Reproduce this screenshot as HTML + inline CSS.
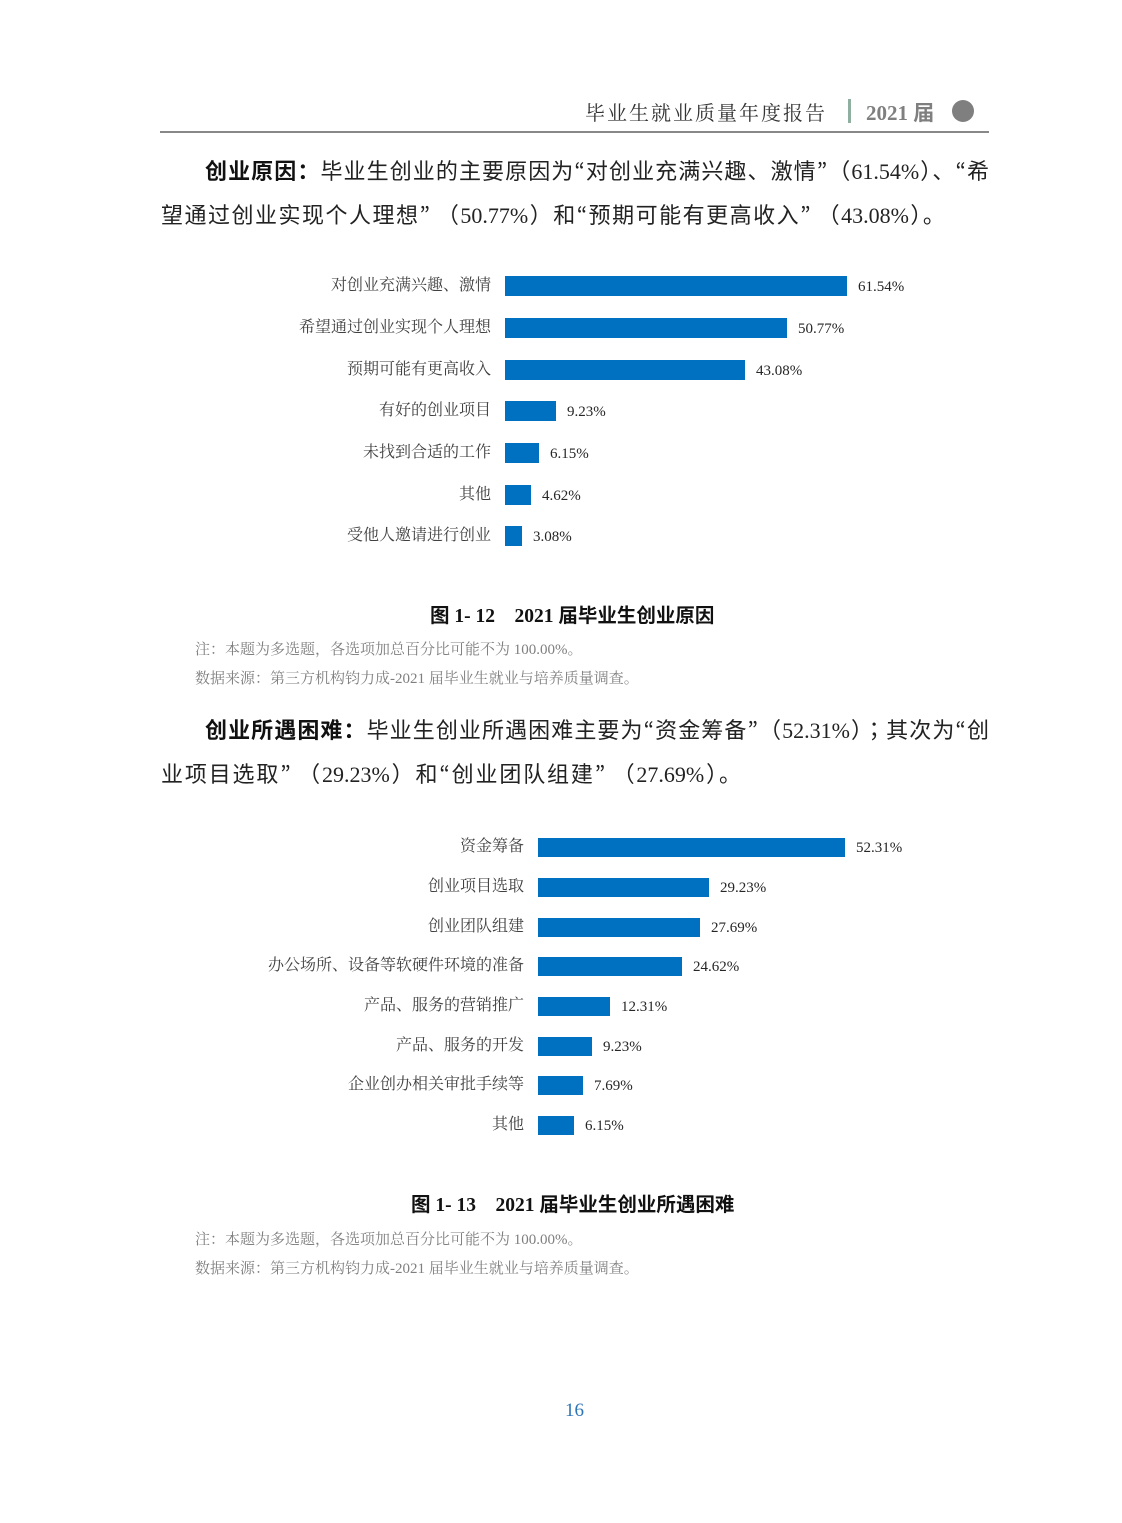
<!DOCTYPE html>
<html><head><meta charset="utf-8"><style>
body{margin:0;width:1122px;height:1523px;background:#fff;position:relative;overflow:hidden;font-family:"Liberation Serif","Noto Sans CJK SC",sans-serif;}
.a{position:absolute;white-space:nowrap;}
.body{font-size:22px;color:#222;line-height:30px;}
.j{text-align:justify;text-align-last:justify;}
.f{font-family:"Noto Sans CJK JP",sans-serif;}
.b{font-family:"Liberation Sans","Noto Sans CJK SC",sans-serif;font-weight:bold;color:#111;}
.lbl{font-size:16px;color:#404040;text-align:right;line-height:20px;font-family:"Liberation Serif","Noto Serif CJK SC",serif;}
.val{font-size:15px;color:#262626;line-height:20px;}
.bar{position:absolute;background:#0070c0;}
.cap{font-size:19.5px;font-weight:bold;color:#111;}
.note{font-size:15px;color:#7f7f7f;font-family:"Liberation Serif","Noto Serif CJK SC",serif;}
</style></head><body>
<div class="a" style="left:585px;top:97px;font-size:20px;color:#333;letter-spacing:2px;font-family:'Noto Serif CJK SC',serif;">毕业生就业质量年度报告</div>
<div class="a" style="left:848px;top:99px;width:3px;height:24px;background:#8fb0a0;"></div>
<div class="a" style="left:866px;top:97px;font-size:21px;color:#7f7f7f;font-weight:bold;">2021 届</div>
<div class="a" style="left:952px;top:100px;width:22px;height:22px;border-radius:50%;background:#7f7f7f;"></div>
<div class="a" style="left:160px;top:131px;width:829px;height:2px;background:#888;"></div>

<div class="a body j" style="left:161px;width:828px;top:155px;"><span style="padding-left:44px" class="b">创业原因：</span>毕业生创业的主要原因为<span class="f">“</span>对创业充满兴趣、激情<span class="f">”（</span>61.54%<span class="f">）、“</span>希</div>
<div class="a body j" style="left:161px;width:784px;top:199px;">望通过创业实现个人理想<span class="f">”</span> <span class="f">（</span>50.77%<span class="f">）</span>和<span class="f">“</span>预期可能有更高收入<span class="f">”</span> <span class="f">（</span>43.08%<span class="f">）。</span></div>

<div class="a lbl" style="right:631px;top:276px;">对创业充满兴趣、激情</div>
<div class="a lbl" style="right:631px;top:318px;">希望通过创业实现个人理想</div>
<div class="a lbl" style="right:631px;top:360px;">预期可能有更高收入</div>
<div class="a lbl" style="right:631px;top:401px;">有好的创业项目</div>
<div class="a lbl" style="right:631px;top:443px;">未找到合适的工作</div>
<div class="a lbl" style="right:631px;top:485px;">其他</div>
<div class="a lbl" style="right:631px;top:526px;">受他人邀请进行创业</div>
<div class="bar" style="left:505px;top:276px;width:342px;height:20px;"></div>
<div class="bar" style="left:505px;top:318px;width:282px;height:20px;"></div>
<div class="bar" style="left:505px;top:360px;width:240px;height:20px;"></div>
<div class="bar" style="left:505px;top:401px;width:51px;height:20px;"></div>
<div class="bar" style="left:505px;top:443px;width:34px;height:20px;"></div>
<div class="bar" style="left:505px;top:485px;width:26px;height:20px;"></div>
<div class="bar" style="left:505px;top:526px;width:17px;height:20px;"></div>
<div class="a val" style="left:858px;top:277px;">61.54%</div>
<div class="a val" style="left:798px;top:319px;">50.77%</div>
<div class="a val" style="left:756px;top:361px;">43.08%</div>
<div class="a val" style="left:567px;top:402px;">9.23%</div>
<div class="a val" style="left:550px;top:444px;">6.15%</div>
<div class="a val" style="left:542px;top:486px;">4.62%</div>
<div class="a val" style="left:533px;top:527px;">3.08%</div>

<div class="a cap" style="left:430px;top:599px;">图 1- 12&nbsp;&nbsp;&nbsp;&nbsp;2021 届毕业生创业原因</div>
<div class="a note" style="left:195px;top:638px;">注：本题为多选题，各选项加总百分比可能不为 100.00%。</div>
<div class="a note" style="left:195px;top:667px;">数据来源：第三方机构钧力成-2021 届毕业生就业与培养质量调查。</div>

<div class="a body j" style="left:161px;width:828px;top:714px;"><span style="padding-left:44px" class="b">创业所遇困难：</span>毕业生创业所遇困难主要为<span class="f">“</span>资金筹备<span class="f">”（</span>52.31%<span class="f">）；</span>其次为<span class="f">“</span>创</div>
<div class="a body j" style="left:161px;width:580px;top:758px;">业项目选取<span class="f">”</span> <span class="f">（</span>29.23%<span class="f">）</span>和<span class="f">“</span>创业团队组建<span class="f">”</span> <span class="f">（</span>27.69%<span class="f">）。</span></div>

<div class="a lbl" style="right:598px;top:837px;">资金筹备</div>
<div class="a lbl" style="right:598px;top:877px;">创业项目选取</div>
<div class="a lbl" style="right:598px;top:917px;">创业团队组建</div>
<div class="a lbl" style="right:598px;top:956px;">办公场所、设备等软硬件环境的准备</div>
<div class="a lbl" style="right:598px;top:996px;">产品、服务的营销推广</div>
<div class="a lbl" style="right:598px;top:1036px;">产品、服务的开发</div>
<div class="a lbl" style="right:598px;top:1075px;">企业创办相关审批手续等</div>
<div class="a lbl" style="right:598px;top:1115px;">其他</div>
<div class="bar" style="left:538px;top:838px;width:307px;height:19px;"></div>
<div class="bar" style="left:538px;top:878px;width:171px;height:19px;"></div>
<div class="bar" style="left:538px;top:918px;width:162px;height:19px;"></div>
<div class="bar" style="left:538px;top:957px;width:144px;height:19px;"></div>
<div class="bar" style="left:538px;top:997px;width:72px;height:19px;"></div>
<div class="bar" style="left:538px;top:1037px;width:54px;height:19px;"></div>
<div class="bar" style="left:538px;top:1076px;width:45px;height:19px;"></div>
<div class="bar" style="left:538px;top:1116px;width:36px;height:19px;"></div>
<div class="a val" style="left:856px;top:838px;">52.31%</div>
<div class="a val" style="left:720px;top:878px;">29.23%</div>
<div class="a val" style="left:711px;top:918px;">27.69%</div>
<div class="a val" style="left:693px;top:957px;">24.62%</div>
<div class="a val" style="left:621px;top:997px;">12.31%</div>
<div class="a val" style="left:603px;top:1037px;">9.23%</div>
<div class="a val" style="left:594px;top:1076px;">7.69%</div>
<div class="a val" style="left:585px;top:1116px;">6.15%</div>

<div class="a cap" style="left:411px;top:1188px;">图 1- 13&nbsp;&nbsp;&nbsp;&nbsp;2021 届毕业生创业所遇困难</div>
<div class="a note" style="left:195px;top:1228px;">注：本题为多选题，各选项加总百分比可能不为 100.00%。</div>
<div class="a note" style="left:195px;top:1257px;">数据来源：第三方机构钧力成-2021 届毕业生就业与培养质量调查。</div>

<div class="a" style="left:565px;top:1400px;font-size:19px;color:#2e75b6;">16</div>
</body></html>
